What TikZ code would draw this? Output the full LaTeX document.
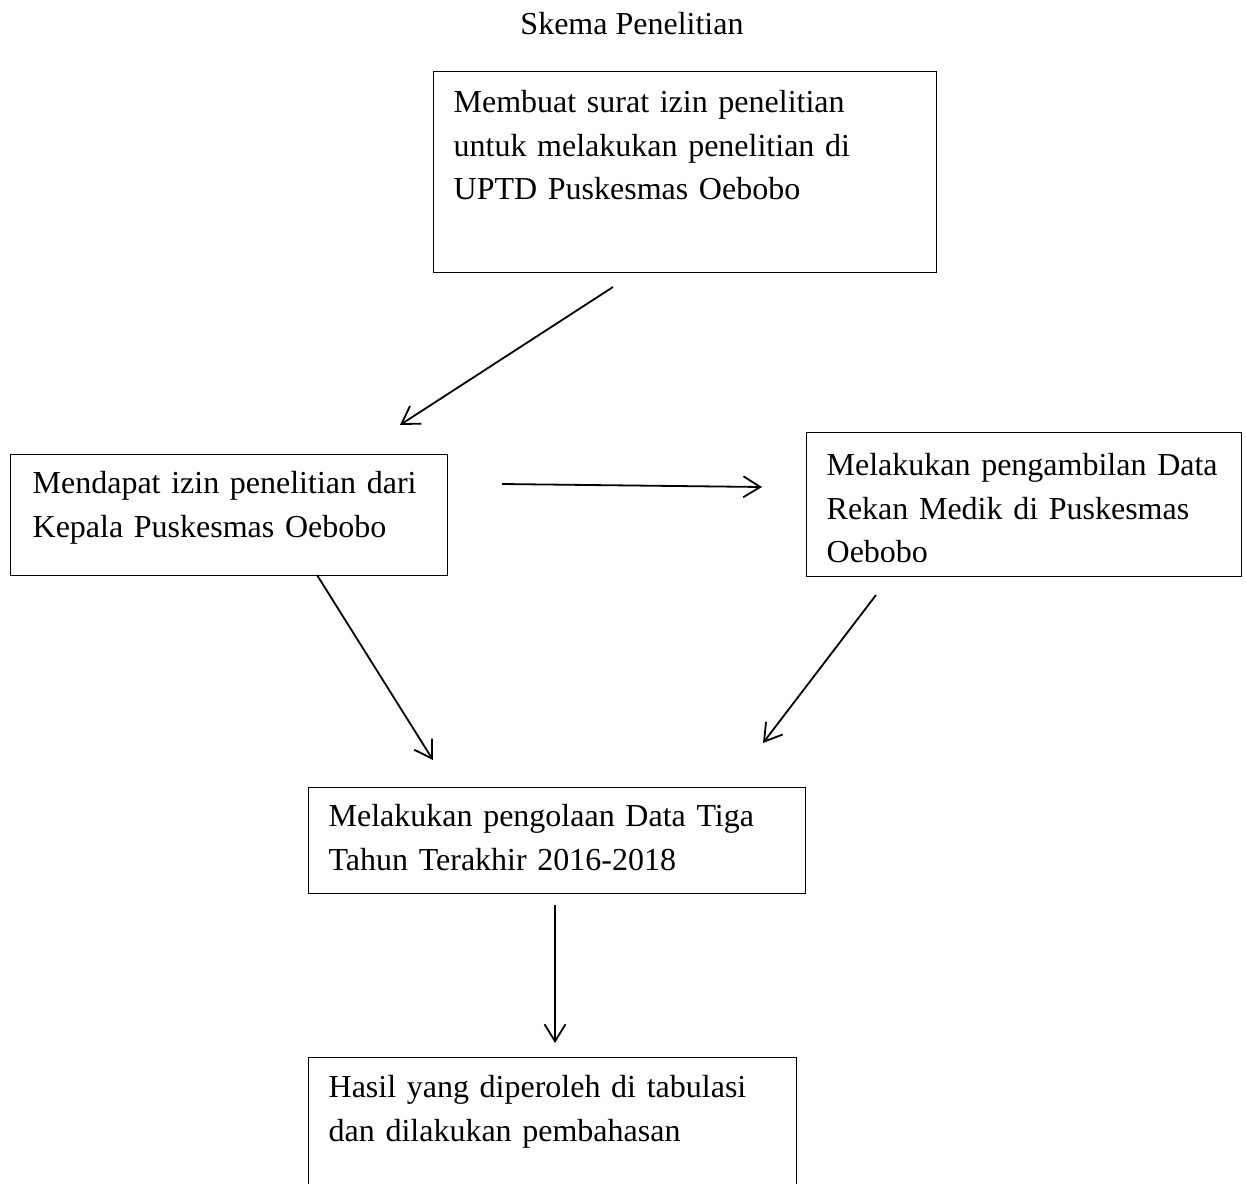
\documentclass[tikz,border=0pt]{standalone}
\usepackage{fontspec}
\setmainfont{Liberation Serif}
\usetikzlibrary{arrows.meta}

\begin{document}
\begin{tikzpicture}[x=1pt,y=-1pt,
    every node/.style={font=\fontsize{32}{43.5}\selectfont},
    kotak/.style={draw,line width=1.3pt,anchor=north west,align=left,inner ysep=0pt,inner xsep=20pt},
    panah/.style={line width=1.8pt,-{Straight Barb[length=17pt,width=21pt]}}]
  \useasboundingbox (0,0) rectangle (1246,1183);
  \clip (0,0) rectangle (1246,1183);
  \node[anchor=base] (judul) at (632,34) {Skema Penelitian};
  \node[kotak,text width=463pt,text height=41pt,text depth=160pt] (surat) at (433,71)
    {Membuat surat izin penelitian\\untuk melakukan penelitian di\\UPTD Puskesmas Oebobo};
  \node[kotak,inner xsep=22pt,text width=393pt,text height=39pt,text depth=82pt] (izin) at (10,454)
    {Mendapat izin penelitian dari\\Kepala Puskesmas Oebobo};
  \node[kotak,text width=395pt,text height=43pt,text depth=101pt] (ambilData) at (806,432)
    {Melakukan pengambilan Data\\Rekan Medik di Puskesmas\\Oebobo};
  \node[kotak,text width=457pt,text height=39pt,text depth=67pt] (olahData) at (308,787)
    {Melakukan pengolaan Data Tiga\\Tahun Terakhir 2016-2018};
  \node[kotak,text width=448pt,text height=40pt,text depth=150pt] (hasil) at (308,1057)
    {Hasil yang diperoleh di tabulasi\\dan dilakukan pembahasan};
  \coordinate (suratOut) at (613,287);
  \coordinate (izinIn) at (400,425);
  \coordinate (izinKanan) at (502,484);
  \coordinate (ambilIn) at (762,487);
  \coordinate (izinOut) at (317,575);
  \coordinate (olahInKiri) at (433,760);
  \coordinate (ambilOut) at (876,595);
  \coordinate (olahInKanan) at (763,743);
  \coordinate (olahOut) at (555,905);
  \coordinate (hasilIn) at (555,1043);
  \draw[panah] (suratOut) -- (izinIn);
  \draw[panah] (izinKanan) -- (ambilIn);
  \draw[panah] (izinOut) -- (olahInKiri);
  \draw[panah] (ambilOut) -- (olahInKanan);
  \draw[panah] (olahOut) -- (hasilIn);
\end{tikzpicture}
\end{document}
